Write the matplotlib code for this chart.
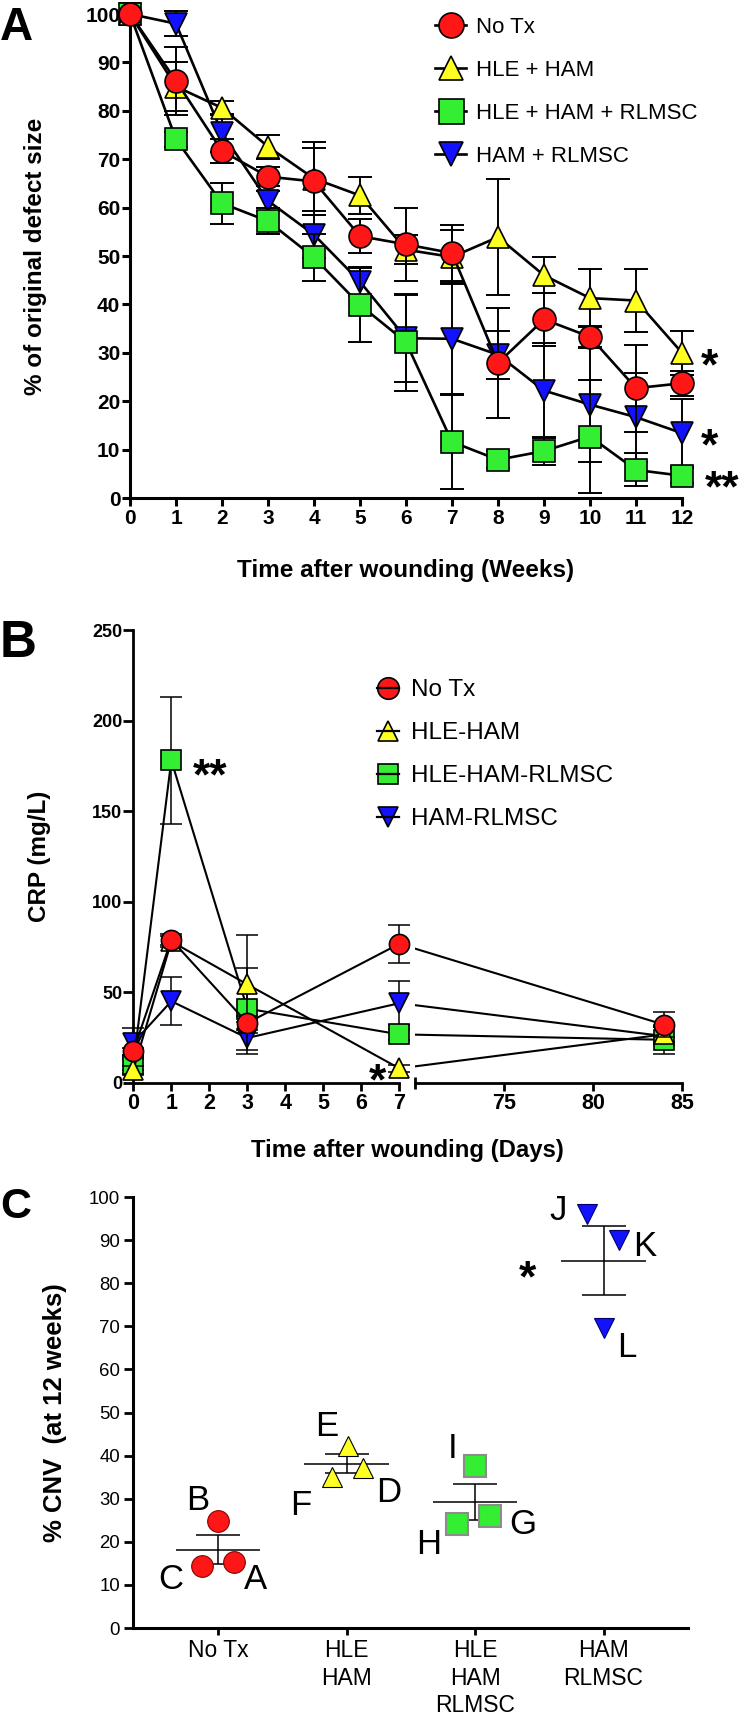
import matplotlib
matplotlib.use('Agg')
import matplotlib.pyplot as plt
import numpy as np
from matplotlib.lines import Line2D
from matplotlib.legend_handler import HandlerTuple

plt.rcParams['font.family'] = ['Liberation Sans', 'DejaVu Sans']

# ---- Panel A: % of original defect size over 12 weeks ----
weeks = np.arange(13)
notx_a = [100, 86.2, 71.7, 66.4, 65.4, 54.1, 52.4, 50.6, 27.9, 36.9, 33.3, 22.7, 23.7]
notx_a_err = [0, 7, 2.5, 2, 7, 3.5, 7.5, 5.8, 11.4, 5.4, 2.3, 9, 2.6]
hle_a = [100, 85, 80.6, 72.6, 66, 62.5, 51.3, 49.8, 53.9, 46, 41.3, 40.8, 30]
hle_a_err = [0, 5, 1.5, 2.5, 7.5, 3.9, 3, 5.5, 12, 3.7, 6, 6.6, 4.5]
hle_rl_a = [100, 74.1, 60.9, 57.2, 49.7, 39.9, 32.2, 11.6, 7.9, 9.7, 12.7, 5.8, 4.6]
hle_rl_a_err = [0, 1.5, 4.2, 2.7, 4.8, 7.6, 10, 9.7, 1.8, 2.9, 11.7, 3.4, 1.5]
ham_rl_a = [100, 98, 75.4, 61.4, 54.4, 44.7, 33, 32.9, 29.6, 22.2, 19.3, 16.7, 13.4]
ham_rl_a_err = [0, 2.6, 4, 2, 4.8, 3, 9, 11.5, 5, 9.8, 11.8, 9.2, 7]
labels_a = ['No Tx', 'HLE + HAM', 'HLE + HAM + RLMSC', 'HAM + RLMSC']

# ---- Panel B: CRP over days ----
days = [0, 1, 3, 7, 84]
notx_b = [17.4, 79, 33, 76.7, 32]
notx_b_err = [2, 3, 4, 10.4, 7]
hle_b = [7, 78, 54.3, 7.9, 26.7]
hle_b_err = [2, 3, 27, 2, 4]
hle_rl_b = [10, 178, 40.9, 26.7, 23.7]
hle_rl_b_err = [3, 35, 22.7, 3, 8]
ham_rl_b = [22, 45, 24.7, 43.9, 25.7]
ham_rl_b_err = [8, 13.3, 9, 12, 5]
labels_b = ['No Tx', 'HLE-HAM', 'HLE-HAM-RLMSC', 'HAM-RLMSC']

# ---- Panel C: % CNV at 12 weeks ----
groups_c = ['No Tx', 'HLE\nHAM', 'HLE\nHAM\nRLMSC', 'HAM\nRLMSC']
cnv_notx = [15.2, 24.9, 14.5]
cnv_hle = [37.2, 42.3, 35.0]
cnv_hle_rl = [26.0, 24.2, 37.5]
cnv_ham_rl = [96.1, 90.1, 69.5]
letters_c = [['A', 'B', 'C'], ['D', 'E', 'F'], ['G', 'H', 'I'], ['J', 'K', 'L']]

RED = '#ff1616'
YEL = '#ffff22'
GRN = '#33ee33'
BLU = '#1212ff'

fig = plt.figure(figsize=(7.44, 17.26), dpi=100)
W, H = 744, 1726


def rect(x0, y0, x1, y1):
    return [x0 / W, 1 - y1 / H, (x1 - x0) / W, (y1 - y0) / H]


def series(ax, x, y, err, marker, color, ms, z, lw, elw, cap, mew=1.2):
    ax.errorbar(x, y, yerr=err, fmt='none', ecolor='black', elinewidth=elw,
                capsize=cap, capthick=elw, zorder=z, clip_on=False)
    ax.plot(x, y, color='black', lw=lw, zorder=z + 0.1, clip_on=False)
    ax.plot(x, y, ls='none', marker=marker, ms=ms, mfc=color, mec='black',
            mew=mew, zorder=z + 0.2, clip_on=False)


AST = 32
ast_dy = -0.33 * AST

# ================= Panel A =================
axA = fig.add_axes(rect(130, 14, 682, 498))
spec_a = [(ham_rl_a, ham_rl_a_err, 'v', BLU, 16),
          (hle_rl_a, hle_rl_a_err, 's', GRN, 16.5),
          (hle_a, hle_a_err, '^', YEL, 16),
          (notx_a, notx_a_err, 'o', RED, 16.5)]
for i, (y, e, m, c, ms) in enumerate(spec_a):
    series(axA, weeks, y, e, m, c, ms, 3 + i, lw=1.9, elw=1.4, cap=8.3)
axA.set_xlim(0, 12)
axA.set_ylim(0, 100)
axA.set_xticks(weeks)
axA.set_yticks(np.arange(0, 101, 10))
axA.spines[['top', 'right']].set_visible(False)
for s in ['left', 'bottom']:
    axA.spines[s].set_linewidth(2.2)
axA.tick_params(axis='both', width=2.2, length=6, labelsize=15)
axA.tick_params(axis='y', pad=1)
axA.tick_params(axis='x', pad=2)
for t in axA.get_xticklabels() + axA.get_yticklabels():
    t.set_fontweight('bold')
axA.set_xlabel('Time after wounding (Weeks)', fontsize=17.5, fontweight='bold')
axA.xaxis.label.set_va('center')
axA.xaxis.set_label_coords(0.5, -0.149)
axA.set_ylabel('% of original defect size', fontsize=17.5, fontweight='bold')
axA.yaxis.label.set_va('center')
axA.yaxis.set_label_coords(-0.172, 0.5)

for y, txt, dx in [(hle_a, '*', 20), (ham_rl_a, '*', 20), (hle_rl_a, '**', 29)]:
    axA.annotate(txt, (weeks[-1], y[-1]), xytext=(dx, ast_dy), textcoords='offset points',
                 ha='center', va='center', fontsize=AST, fontweight='bold',
                 annotation_clip=False)

hand_a = [Line2D([], [], color='black', lw=1.9, marker=m, ms=ms + 1.5, mfc=c, mec='black', mew=1.2)
          for (_, _, m, c, ms) in spec_a[::-1]]
fig.legend(hand_a, labels_a, loc='upper left', bbox_to_anchor=(435 / W, 1 - 17 / H),
           frameon=False, fontsize=16, handlelength=1.4, handletextpad=0.45,
           labelspacing=0.99, borderpad=0, borderaxespad=0)
fig.text(0 / W, 1 - 39.5 / H, 'A', fontsize=33, fontweight='bold', ha='left', va='baseline')

# ================= Panel B =================
axL = fig.add_axes(rect(133.3, 630, 399.3, 1082.7))
axR = fig.add_axes(rect(415.3, 630, 682, 1082.7))
for ax in (axL, axR):
    ax.set_ylim(0, 250)
axL.set_xlim(0, 7)
axR.set_xlim(70, 85)

spec_b = [(ham_rl_b, ham_rl_b_err, 'v', BLU, 14),
          (hle_rl_b, hle_rl_b_err, 's', GRN, 14),
          (hle_b, hle_b_err, '^', YEL, 14),
          (notx_b, notx_b_err, 'o', RED, 14.5)]
for i, (y, e, m, c, ms) in enumerate(spec_b):
    z = 3 + i
    series(axL, days[:4], y[:4], e[:4], m, c, ms, z, lw=1.5, elw=1.1, cap=8)
    # segment from day 7 to day 84 crosses the axis break
    disp = axL.transData.transform((days[3], y[3]))
    x7r = axR.transData.inverted().transform(disp)[0]
    axR.plot([x7r, days[4]], [y[3], y[4]], color='black', lw=1.5, zorder=z + 0.1)
    axR.errorbar([days[4]], [y[4]], yerr=[e[4]], fmt='none', ecolor='black', elinewidth=1.1,
                 capsize=8, capthick=1.1, zorder=z, clip_on=False)
    axR.plot([days[4]], [y[4]], ls='none', marker=m, ms=ms, mfc=c, mec='black', mew=1.2,
             zorder=z + 0.2, clip_on=False)

axL.spines[['top', 'right']].set_visible(False)
axR.spines[['top', 'right', 'left']].set_visible(False)
for ax in (axL, axR):
    ax.spines['bottom'].set_linewidth(2)
axL.spines['left'].set_linewidth(2)
axL.set_xticks(range(0, 8))
axL.set_yticks(np.arange(0, 251, 50))
axR.set_xticks([75, 80, 85])
axR.set_xticks([70], minor=True)
axR.set_yticks([])
axL.tick_params(axis='y', width=2, length=7, labelsize=13, pad=1)
axL.tick_params(axis='x', width=2, length=5.5, labelsize=15.5, pad=2)
axR.tick_params(axis='x', width=2, length=5.5, labelsize=15.5, pad=2)
axR.tick_params(axis='x', which='minor', direction='inout', length=9, width=2)
for t in axL.get_xticklabels() + axL.get_yticklabels() + axR.get_xticklabels():
    t.set_fontweight('bold')
axL.set_ylabel('CRP (mg/L)', fontsize=17.5, fontweight='bold')
axL.yaxis.label.set_va('center')
axL.yaxis.set_label_coords(-0.351, 0.5)
fig.text(407.6 / W, 1 - 1150 / H, 'Time after wounding (Days)', fontsize=17.2,
         fontweight='bold', ha='center', va='center')

axL.annotate('**', (days[1], hle_rl_b[1]), xytext=(15.5, ast_dy - 2), textcoords='offset points',
             ha='left', va='center', fontsize=AST, fontweight='bold', annotation_clip=False)
axL.annotate('*', (days[3], hle_b[3]), xytext=(-16, ast_dy), textcoords='offset points',
             ha='center', va='center', fontsize=AST, fontweight='bold',
             annotation_clip=False, zorder=10)

hand_b = []
for (_, _, m, c, ms) in spec_b[::-1]:
    mk = Line2D([], [], ls='none', marker=m, ms=ms + 1, mfc=c, mec='black', mew=1.2)
    ln = Line2D([], [], color='black', lw=1.6)
    hand_b.append((mk, ln))
fig.legend(hand_b, labels_b, loc='upper left', bbox_to_anchor=(377 / W, 1 - 679 / H),
           handler_map={tuple: HandlerTuple(ndivide=1)},
           frameon=False, fontsize=17.5, handlelength=0.9, handletextpad=0.5,
           labelspacing=0.87, borderpad=0, borderaxespad=0)
fig.text(0 / W, 1 - 657 / H, 'B', fontsize=37, fontweight='bold', ha='left', va='baseline')

# ================= Panel C =================
axC = fig.add_axes(rect(133.3, 1197, 688.3, 1628))
cnv = [cnv_notx, cnv_hle, cnv_hle_rl, cnv_ham_rl]
jitter = [[0.125, 0, -0.125], [0.13, 0.01, -0.11], [0.12, -0.14, 0.0], [-0.13, 0.12, 0.0]]
offs = [[(15.6, -9.9), (-14.4, 17.1), (-22.6, -7.4)],
        [(18.3, -15.3), (-15.4, 16.2), (-23, -18)],
        [(23, -3.6), (-20.5, -12.5), (-16.3, 15.3)],
        [(-20.6, 5), (18.7, -2.2), (16.6, -11.2)]]
style_c = [('o', RED, 15.6, '#8a0000', 0.8),
           ('^', YEL, 14, 'black', 0.8),
           ('s', GRN, 15.5, '#8c8c8c', 1.5),
           ('v', BLU, 14.5, '#000066', 0.8)]
for i, vals in enumerate(cnv):
    vals = np.array(vals)
    m, c, ms, ec, mw = style_c[i]
    mean = vals.mean()
    sem = vals.std(ddof=1) / np.sqrt(len(vals))
    axC.hlines(mean, i - 0.33, i + 0.33, color='black', lw=1.1, zorder=2)
    axC.errorbar([i], [mean], yerr=[sem], fmt='none', ecolor='black', elinewidth=1.1,
                 capsize=15.6, capthick=1.1, zorder=2)
    xs = i + np.array(jitter[i])
    axC.plot(xs, vals, ls='none', marker=m, ms=ms, mfc=c, mec=ec, mew=mw, zorder=3)
    for xv, yv, lab, (ox, oy) in zip(xs, vals, letters_c[i], offs[i]):
        axC.annotate(lab, (xv, yv), xytext=(ox, oy - 2.5), textcoords='offset points',
                     ha='center', va='center', fontsize=25)
    if i == 3:
        axC.annotate('*', (i, mean), xytext=(-54.6, -3 + ast_dy), textcoords='offset points',
                     ha='center', va='center', fontsize=AST, fontweight='bold')

axC.set_xlim(-0.66, 3.66)
axC.set_ylim(0, 100)
axC.set_xticks(range(4))
axC.set_xticklabels(groups_c, fontsize=16.5, linespacing=1.25)
axC.set_yticks(np.arange(0, 101, 10))
axC.spines[['top', 'right']].set_visible(False)
for s in ['left', 'bottom']:
    axC.spines[s].set_linewidth(2.2)
axC.tick_params(axis='y', width=2, length=6.5, labelsize=13.4, pad=3)
axC.tick_params(axis='x', width=2, length=5, pad=3)
axC.set_ylabel('% CNV  (at 12 weeks)', fontsize=18.5, fontweight='bold')
axC.yaxis.label.set_va('center')
axC.yaxis.set_label_coords(-0.141, 0.5)
fig.text(0 / W, 1 - 1218 / H, 'C', fontsize=31, fontweight='bold', ha='left', va='baseline')

fig.savefig('out.png', dpi=100)
